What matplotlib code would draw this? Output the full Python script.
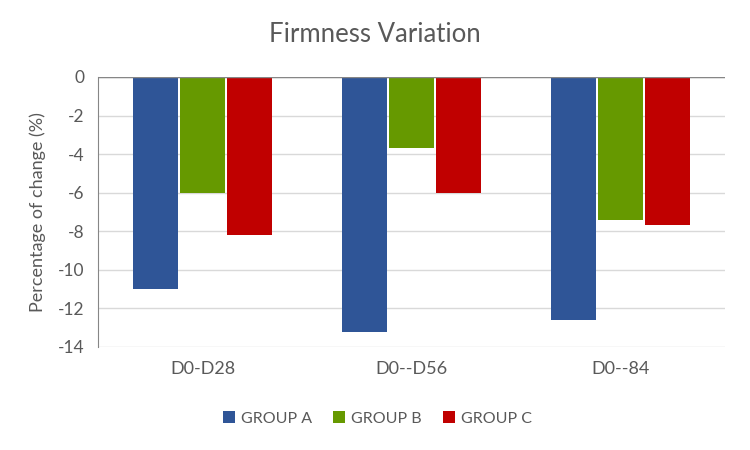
import matplotlib
matplotlib.use("Agg")
import matplotlib.pyplot as plt
import numpy as np

categories = ["D0-D28", "D0--D56", "D0--84"]
series_names = ["GROUP A", "GROUP B", "GROUP C"]
group_a = [-11.0, -13.2, -12.6]
group_b = [-6.0, -3.7, -7.4]
group_c = [-8.2, -6.0, -7.7]
colors = ["#2F5597", "#669900", "#C00000"]
yticks = [0, -2, -4, -6, -8, -10, -12, -14]

plt.rcParams['font.family'] = ['Lato', 'DejaVu Sans']
txt = "#595959"

fig = plt.figure(figsize=(7.5, 4.5), dpi=100)
ax = fig.add_axes([0.1307, 0.2289, 0.836, 0.60])

x = np.arange(len(categories))
w = 0.215
off = 0.225
for i, (vals, name, c) in enumerate(zip([group_a, group_b, group_c], series_names, colors)):
    ax.bar(x + (i - 1) * off, vals, width=w, color=c, label=name, zorder=3)

ax.set_xlim(-0.5, len(categories) - 0.5)
ax.set_ylim(-14, 0)
ax.set_yticks(yticks)
ax.set_yticklabels([str(t) for t in yticks], color=txt, fontsize=12.5)
ax.set_xticks(x)
ax.set_xticklabels(categories, color=txt, fontsize=13)
ax.tick_params(axis='y', length=0, pad=10)
ax.tick_params(axis='x', length=0, pad=10)
ax.grid(axis='y', color="#D9D9D9", linewidth=1, zorder=0)
for s in ['top', 'right', 'bottom']:
    ax.spines[s].set_visible(False)
ax.spines['left'].set_color("#868686")
ax.axhline(0, color="#868686", linewidth=1, zorder=4)

ax.set_ylabel("Percentage of change (%)", color=txt, fontsize=13, labelpad=8)
fig.suptitle("Firmness Variation", x=0.5, y=0.95, color=txt, fontsize=18.5)

leg = fig.legend(loc='center', bbox_to_anchor=(0.503, 0.07), ncol=3, frameon=False,
                 fontsize=11.5, handlelength=0.75, handleheight=0.75, handletextpad=0.4,
                 columnspacing=1.3)
for t in leg.get_texts():
    t.set_color(txt)

fig.savefig("out.png", dpi=100)
